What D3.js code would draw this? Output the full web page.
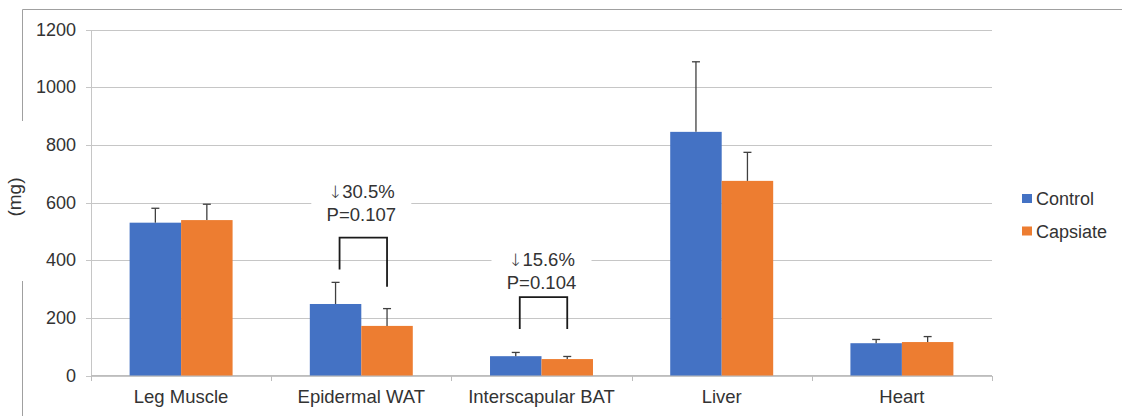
<!DOCTYPE html>
<html>
<head>
<meta charset="utf-8">
<script src="https://cdn.jsdelivr.net/npm/d3@7"></script>
<style>
  html, body { margin: 0; padding: 0; background: #fff; }
  svg { display: block; font-family: "Liberation Sans", Arial, sans-serif; }
</style>
</head>
<body>
<svg id="chart" width="1122" height="416"></svg>
<script>
// Organ weights (mg), mean with upper error bar
const categories = ["Leg Muscle", "Epidermal WAT", "Interscapular BAT", "Liver", "Heart"];
const seriesNames = ["Control", "Capsiate"];
const controlValues = [530, 248, 67, 845, 112];
const controlErrors = [50, 75, 13, 243, 13];
const capsiateValues = [539, 172, 57, 675, 116];
const capsiateErrors = [55, 60, 9, 99, 19];
const yTicks = [0, 200, 400, 600, 800, 1000, 1200];
const colors = ["#4472C4", "#ED7D31"];

// Significance annotations: category, text lines, bracket levels (mg)
const annCategories = ["Epidermal WAT", "Interscapular BAT"];
const annArrow = ["\u2193", "\u2193"];
const annLine1 = ["30.5%", "15.6%"];
const annLine2 = ["P=0.107", "P=0.104"];
const annTextLevel = [614, 380];
const annBracketTop = [478, 272];
const annBracketLeft = [368, 161];
const annBracketRight = [308, 161];

const svg = d3.select("#chart");
const textColor = "#333";
const fontFamily = '"Liberation Sans", Arial, sans-serif';

const plot = { left: 91, right: 992, top: 29.5, bottom: 375.5 };

const y = d3.scaleLinear().domain([0, 1200]).range([plot.bottom, plot.top]);
const x0 = d3.scaleBand().domain(categories).range([plot.left, plot.right]).padding(0);
const x1 = d3.scaleBand().domain(seriesNames).range([0, x0.bandwidth()])
  .paddingInner(0).paddingOuter(0.75);

// Outer frame (partially visible)
const frame = svg.append("g").attr("stroke", "#a0a0a0").attr("stroke-width", 1);
frame.append("line").attr("x1", 22.5).attr("x2", 1122).attr("y1", 9.5).attr("y2", 9.5);
frame.append("line").attr("x1", 22.5).attr("x2", 22.5).attr("y1", 9.5).attr("y2", 121);
frame.append("line").attr("x1", 22.5).attr("x2", 22.5).attr("y1", 281).attr("y2", 416);

// Gridlines + y tick labels
const yAxis = d3.axisLeft(y).tickValues(yTicks).tickFormat(d3.format("d")).tickPadding(10);
const gy = svg.append("g").attr("transform", `translate(${plot.left},0)`).call(yAxis)
  .attr("font-family", fontFamily).attr("font-size", 18);
gy.select(".domain").remove();
gy.selectAll(".tick line")
  .attr("x1", -5)
  .attr("x2", plot.right - plot.left)
  .attr("stroke", "#c6c6c6")
  .attr("stroke-width", 1)
  .attr("shape-rendering", "crispEdges");
gy.selectAll(".tick text")
  .attr("fill", textColor)
  .attr("x", -15);

// Vertical axis line
svg.append("line")
  .attr("x1", plot.left + 0.5).attr("x2", plot.left + 0.5)
  .attr("y1", plot.top).attr("y2", plot.bottom + 5)
  .attr("stroke", "#c6c6c6").attr("shape-rendering", "crispEdges");

// X axis: baseline, boundary ticks, labels
svg.append("line")
  .attr("x1", plot.left).attr("x2", plot.right)
  .attr("y1", plot.bottom).attr("y2", plot.bottom)
  .attr("stroke", "#bdbdbd").attr("shape-rendering", "crispEdges");
const boundaries = categories.map(c => x0(c)).concat([x0(categories[categories.length - 1]) + x0.bandwidth()]);
svg.append("g").selectAll("line").data(boundaries).join("line")
  .attr("x1", d => Math.round(d) + 0.5).attr("x2", d => Math.round(d) + 0.5)
  .attr("y1", plot.bottom).attr("y2", plot.bottom + 5)
  .attr("stroke", "#bdbdbd").attr("shape-rendering", "crispEdges");
svg.append("g").selectAll("text").data(categories).join("text")
  .attr("x", d => x0(d) + x0.bandwidth() / 2)
  .attr("y", 403)
  .attr("text-anchor", "middle")
  .attr("font-size", 18.5)
  .attr("fill", textColor)
  .text(d => d);

// Y axis title
svg.append("text")
  .attr("transform", "translate(21,197) rotate(-90)")
  .attr("text-anchor", "middle")
  .attr("font-size", 19)
  .attr("fill", textColor)
  .text("(mg)");

// Bars
const rows = categories.map((c, i) => ({
  category: c,
  items: [
    { series: seriesNames[0], value: controlValues[i], err: controlErrors[i], color: colors[0] },
    { series: seriesNames[1], value: capsiateValues[i], err: capsiateErrors[i], color: colors[1] }
  ]
}));

const groups = svg.append("g").selectAll("g").data(rows).join("g")
  .attr("transform", d => `translate(${x0(d.category)},0)`);

groups.selectAll("rect").data(d => d.items).join("rect")
  .attr("x", d => x1(d.series))
  .attr("width", x1.bandwidth())
  .attr("y", d => y(d.value))
  .attr("height", d => y(0) - y(d.value))
  .attr("fill", d => d.color);

// Upper error bars
const eb = groups.selectAll("g.err").data(d => d.items).join("g").attr("class", "err")
  .attr("stroke", "#404040").attr("stroke-width", 1.3);
eb.append("line")
  .attr("x1", d => x1(d.series) + x1.bandwidth() / 2)
  .attr("x2", d => x1(d.series) + x1.bandwidth() / 2)
  .attr("y1", d => y(d.value))
  .attr("y2", d => y(d.value + d.err));
eb.append("line")
  .attr("x1", d => x1(d.series) + x1.bandwidth() / 2 - 4)
  .attr("x2", d => x1(d.series) + x1.bandwidth() / 2 + 4)
  .attr("y1", d => y(d.value + d.err))
  .attr("y2", d => y(d.value + d.err));

// Significance brackets and labels
annCategories.forEach((c, i) => {
  const cx = x0(c) + x0.bandwidth() / 2;
  const xl = x0(c) + x1(seriesNames[0]) + x1.bandwidth() / 2 + 4;
  const xr = x0(c) + x1(seriesNames[1]) + x1.bandwidth() / 2;
  const g = svg.append("g");
  g.append("rect")
    .attr("x", cx - 50).attr("width", 100)
    .attr("y", y(annTextLevel[i]) - 18).attr("height", 44)
    .attr("fill", "#fff");
  g.append("path")
    .attr("d", `M${xl},${y(annBracketLeft[i])}V${y(annBracketTop[i])}H${xr}V${y(annBracketRight[i])}`)
    .attr("fill", "none").attr("stroke", "#1a1a1a").attr("stroke-width", 1.8);
  const t1 = g.append("text")
    .attr("x", cx).attr("y", y(annTextLevel[i]))
    .attr("text-anchor", "middle").attr("font-size", 18.5).attr("fill", textColor);
  t1.append("tspan").attr("font-family", '"DejaVu Sans", sans-serif').attr("font-size", 17)
    .attr("font-weight", 300).text(annArrow[i]);
  t1.append("tspan").text(annLine1[i]);
  g.append("text")
    .attr("x", cx).attr("y", y(annTextLevel[i]) + 23)
    .attr("text-anchor", "middle").attr("font-size", 18.5).attr("fill", textColor)
    .text(annLine2[i]);
});

// Legend
const legend = svg.append("g").attr("transform", "translate(1022,194)");
const li = legend.selectAll("g").data(seriesNames).join("g")
  .attr("transform", (d, i) => `translate(0,${i * 32.5})`);
li.append("rect").attr("width", 10).attr("height", 9).attr("fill", (d, i) => colors[i]);
li.append("text")
  .attr("x", 14).attr("y", 11)
  .attr("font-size", 18).attr("fill", textColor)
  .text(d => d);
</script>
</body>
</html>
